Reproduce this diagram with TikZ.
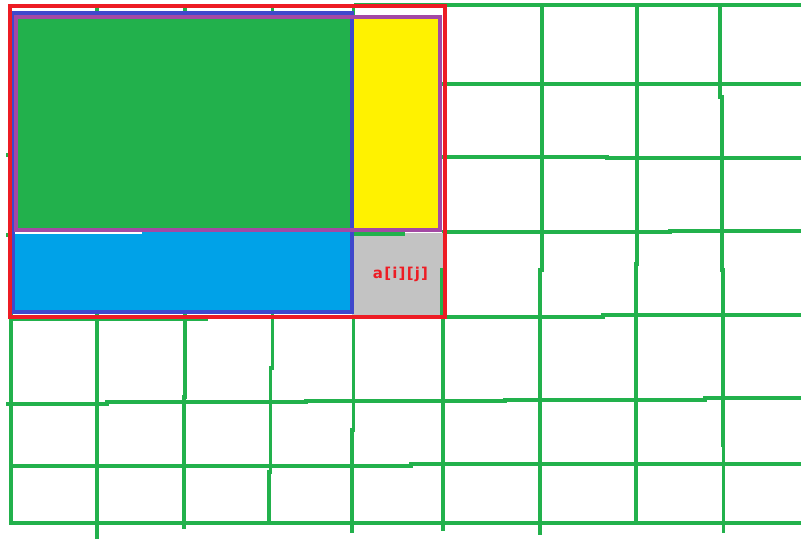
\documentclass[tikz,border=0pt]{standalone}
\usepackage{fontspec}
\newfontfamily\lblfont[LetterSpace=8]{DejaVu Sans Bold}
\definecolor{pgreen}{HTML}{22B14C}
\definecolor{pyellow}{HTML}{FFF200}
\definecolor{pcyan}{HTML}{00A2E8}
\definecolor{pgray}{HTML}{C3C3C3}
\definecolor{pred}{HTML}{ED1C24}
\definecolor{pblue}{HTML}{3F48CC}
\definecolor{ppurple}{HTML}{A349A4}
\tikzset{
  gridline/.style={draw=pgreen, line width=3.7pt},
  outline/.style={line width=3.8pt},
}
\begin{document}
\begin{tikzpicture}[x=1pt,y=-1pt]
\useasboundingbox (0,0) rectangle (801,540);
\fill[white] (0,0) rectangle (801,540);
% horizontal grid lines
\draw[gridline] (354,5.3) -- (801,5.3);
\draw[gridline] (442,83.7) -- (801,83.7);
\draw[gridline] (436,156.7) -- (607,156.7) -- (607,158) -- (801,158);
\draw[gridline] (442,232.3) -- (670,232.3) -- (670,230.7) -- (801,230.7);
\draw[gridline] (10,319) -- (208,319);
\draw[gridline] (444,317) -- (603,317) -- (603,315.3) -- (801,315.3);
\draw[gridline] (6,404.3) -- (107,404.3) -- (107,402.3) -- (306,402.3) -- (306,401) -- (505,401) -- (505,399.7) -- (705,399.7) -- (705,398.3) -- (801,398.3);
\draw[gridline] (11,465.7) -- (411,465.7) -- (411,464.3) -- (801,464.3);
\draw[gridline] (11,522.7) -- (801,522.7);
\draw[gridline] (6,155) -- (12,155);
\draw[gridline] (6,235) -- (12,235);
% vertical grid lines
\draw[gridline] (11.2,155) -- (11.2,525);
\draw[gridline] (97,5) -- (97,539);
\draw[gridline] (184.7,5) -- (184.7,397) -- (183.7,397) -- (183.7,529);
\draw[gridline] (272.4,5) -- (272.4,368) -- (270.4,368) -- (270.4,472) -- (268.9,472) -- (268.9,522.7);
\draw[gridline] (353.6,5) -- (353.6,430) -- (352,430) -- (352,533);
\draw[gridline] (443,316) -- (443,531);
\draw[gridline] (541.7,5) -- (541.7,270) -- (540,270) -- (540,535);
\draw[gridline] (637.3,5) -- (637.3,264) -- (636,264) -- (636,522.7);
\draw[gridline] (720,5) -- (720,97) -- (722,97) -- (722,270) -- (723.3,270) -- (723.3,445) -- (723.5,445) -- (723.5,533);
% fills
\fill[pgreen] (15,16) rectangle (351,230);
\fill[pyellow] (351,16) rectangle (440,230);
\fill[pcyan] (12,232) rectangle (352,312);
\fill[white] (15,231.5) rectangle (142,234.5);
\fill[pgray] (352,233) rectangle (445,316);
\draw[gridline] (352,234) -- (405,234);
\draw[gridline] (442,268) -- (442,316);
% outlines
\draw[outline, draw=pblue] (12.7,12.7) rectangle (351.7,311.7);
\draw[outline, draw=ppurple] (15.9,16.9) rectangle (439.8,229.8);
\draw[outline, draw=pred, line width=4pt] (10,6.5) rectangle (445,316.5);
% label
\node[text=pred, font=\lblfont\fontsize{15}{18}\selectfont, inner sep=0pt] (lbl) at (400.5,274.5) {a[i][j]};
\end{tikzpicture}
\end{document}
